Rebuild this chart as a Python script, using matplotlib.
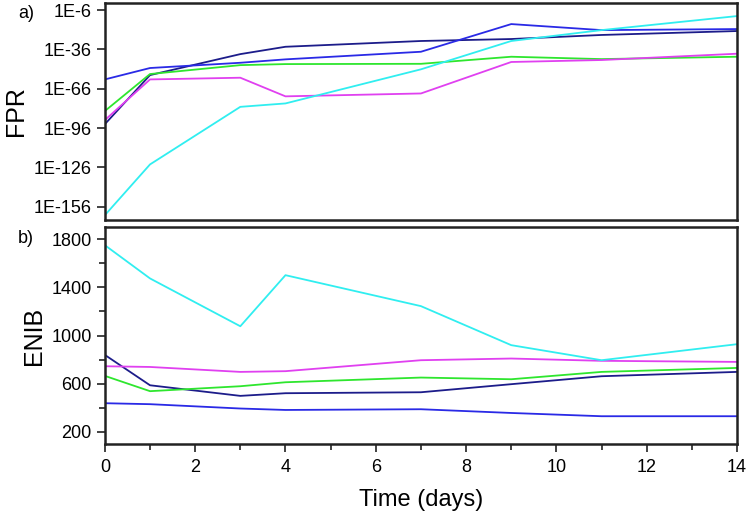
import math
import matplotlib
matplotlib.use("Agg")
import matplotlib.pyplot as plt
from matplotlib.ticker import FixedLocator, FuncFormatter, MultipleLocator, NullLocator

plt.rcParams['font.family'] = ['Liberation Sans', 'DejaVu Sans']

days = [0, 1, 3, 4, 7, 9, 11, 14]

# FPR exponents (log10)
fpr_navy = [-93, -55.6, -39.6, -34, -29.6, -28.1, -25, -22]
fpr_blue = [-58.9, -50.2, -46.2, -43.6, -37.8, -16.7, -21.3, -20.5]
fpr_green = [-83, -54.8, -48, -47.2, -47, -41.6, -43.4, -41.6]
fpr_magenta = [-89.9, -58.9, -57.6, -71.8, -69.6, -45.6, -44.1, -39.3]
fpr_cyan = [-162.4, -123.7, -79.8, -77.2, -51.2, -29.6, -21.3, -10.6]

# ENIB values
enib_navy = [839, 587, 499, 521, 529, 596, 662, 698]
enib_blue = [438, 430, 394, 382, 388, 357, 330, 330]
enib_green = [665, 538, 579, 612, 651, 637, 698, 731]
enib_magenta = [745, 739, 698, 704, 795, 809, 790, 781]
enib_cyan = [1750, 1474, 1077, 1501, 1244, 920, 795, 928]

fpr_ticks = [-156, -126, -96, -66, -36, -6]
enib_ticks = [200, 600, 1000, 1400, 1800]

colors = {
    'navy': '#1c1c8a',
    'blue': '#2a2ae6',
    'green': '#2ee62e',
    'magenta': '#e040f0',
    'cyan': '#30eef0',
}

fig = plt.figure(figsize=(7.49, 5.15), dpi=100)
ax1 = fig.add_axes([0.140, 0.573, 0.844, 0.421])
ax2 = fig.add_axes([0.140, 0.138, 0.844, 0.421])

fpr_series = [('navy', fpr_navy), ('blue', fpr_blue), ('green', fpr_green),
              ('magenta', fpr_magenta), ('cyan', fpr_cyan)]
for name, vals in fpr_series:
    ax1.plot(days, [10.0 ** v for v in vals], color=colors[name], lw=1.3)
ax1.set_yscale('log')
ax1.set_ylim(10.0 ** -166, 10.0 ** -0.7)
ax1.set_xlim(0, 14)
ax1.yaxis.set_major_locator(FixedLocator([10.0 ** t for t in fpr_ticks]))
ax1.yaxis.set_major_formatter(FuncFormatter(
    lambda v, p: '1E%d' % round(math.log10(v))))
ax1.yaxis.set_minor_locator(NullLocator())
ax1.xaxis.set_major_locator(NullLocator())
ax1.xaxis.set_minor_locator(NullLocator())
ax1.set_ylabel('FPR', fontsize=18, labelpad=4)

enib_series = [('navy', enib_navy), ('blue', enib_blue), ('green', enib_green),
               ('magenta', enib_magenta), ('cyan', enib_cyan)]
for name, vals in enib_series:
    ax2.plot(days, vals, color=colors[name], lw=1.3)
ax2.set_xlim(0, 14)
ax2.set_ylim(100, 1900)
ax2.yaxis.set_major_locator(FixedLocator(enib_ticks))
ax2.yaxis.set_minor_locator(FixedLocator([400, 800, 1200, 1600]))
ax2.xaxis.set_major_locator(MultipleLocator(2))
ax2.xaxis.set_minor_locator(MultipleLocator(1))
ax2.set_ylabel('ENIB', fontsize=18, labelpad=4)
ax2.set_xlabel('Time (days)', fontsize=17, labelpad=9)

for ax in (ax1, ax2):
    for s in ax.spines.values():
        s.set_linewidth(1.8)
        s.set_color('#222222')
    ax.tick_params(which='major', direction='out', length=6, width=1.2,
                   labelsize=13, color='#222222')
    ax.tick_params(which='minor', direction='out', length=4, width=1.2,
                   color='#222222')
ax2.tick_params(axis='x', which='major', pad=5)

fig.text(18 / 749, 1 - 13 / 515, 'a)', fontsize=13, va='center', ha='left')
fig.text(18 / 749, 1 - 238 / 515, 'b)', fontsize=13, va='center', ha='left')

fig.savefig('out.png', dpi=100)
